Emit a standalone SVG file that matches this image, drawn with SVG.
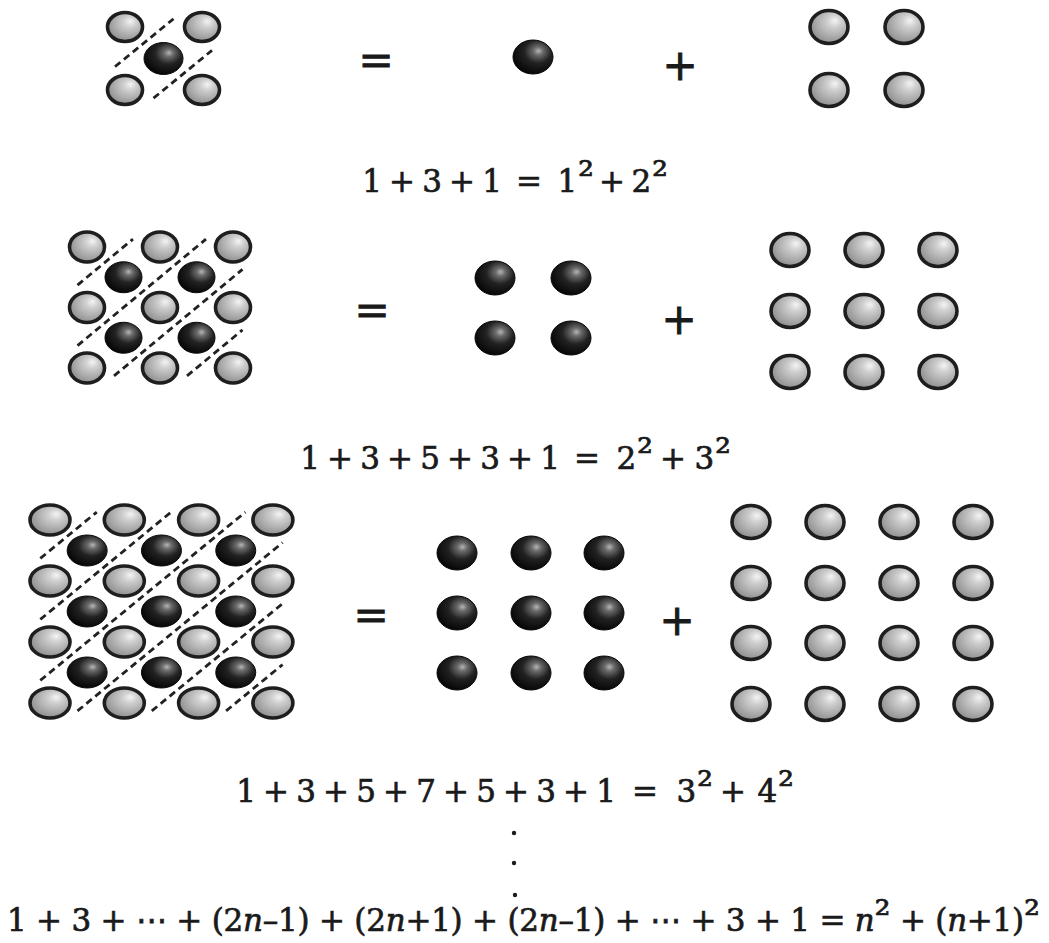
<svg xmlns="http://www.w3.org/2000/svg" width="1049" height="943" viewBox="0 0 1049 943">
<defs>
<radialGradient id="gg" cx="0.6" cy="0.38" r="0.62" fx="0.66" fy="0.3">
<stop offset="0" stop-color="#f4f4f4"/>
<stop offset="0.3" stop-color="#cfcfcf"/>
<stop offset="0.65" stop-color="#b0b0b0"/>
<stop offset="1" stop-color="#909090"/>
</radialGradient>
<radialGradient id="bg" cx="0.6" cy="0.36" r="0.68" fx="0.64" fy="0.32">
<stop offset="0" stop-color="#b5b5b5"/>
<stop offset="0.18" stop-color="#6a6a6a"/>
<stop offset="0.5" stop-color="#222222"/>
<stop offset="1" stop-color="#040404"/>
</radialGradient>
<style>
.g{fill:url(#gg);stroke:#1e1e1e;stroke-width:3.6}
.b{fill:url(#bg);stroke:#080808;stroke-width:1}
.d{stroke:#222;stroke-width:2.8;stroke-dasharray:7 4.5;fill:none}
.eq{font-family:"DejaVu Serif","DejaVu Sans",serif;font-size:31px;fill:#1a1a1a;stroke:#1a1a1a;stroke-width:0.7}
.sp{font-size:40px}
.op{font-family:"DejaVu Serif",serif;font-size:42px;fill:#1a1a1a;stroke:#1a1a1a;stroke-width:1;text-anchor:middle}
.it{font-style:italic}
.dot{fill:#1a1a1a}
</style>
</defs>
<rect width="1049" height="943" fill="#ffffff"/>

<g id="dashes">
<line class="d" x1="115" y1="66.7" x2="173.5" y2="18.8"/>
<line class="d" x1="153.5" y1="98.2" x2="212" y2="50.3"/>
<line class="d" x1="77.5" y1="285.1" x2="133" y2="239.1"/>
<line class="d" x1="77.5" y1="345.6" x2="206" y2="239.1"/>
<line class="d" x1="114" y1="375.9" x2="242.5" y2="269.4"/>
<line class="d" x1="187" y1="375.9" x2="242.5" y2="329.9"/>
<line class="d" x1="40.3" y1="558.4" x2="96.8" y2="512.1"/>
<line class="d" x1="40.3" y1="619.4" x2="171.1" y2="512.1"/>
<line class="d" x1="40.3" y1="680.4" x2="245.4" y2="512.1"/>
<line class="d" x1="77.5" y1="710.9" x2="282.6" y2="542.6"/>
<line class="d" x1="151.8" y1="710.9" x2="282.6" y2="603.6"/>
<line class="d" x1="226.1" y1="710.9" x2="282.6" y2="664.6"/>
</g>

<g id="fig1-left">
<ellipse class="g" cx="125" cy="27" rx="17.5" ry="14.5"/>
<ellipse class="g" cx="202" cy="27" rx="17.5" ry="14.5"/>
<ellipse class="g" cx="125" cy="90" rx="17.5" ry="14.5"/>
<ellipse class="g" cx="202" cy="90" rx="17.5" ry="14.5"/>
<ellipse class="b" cx="163.5" cy="58.5" rx="19.5" ry="16"/>
</g>
<g id="fig1-right">
<text class="op" x="376" y="75">=</text>
<ellipse class="b" cx="533" cy="57" rx="20" ry="17"/>
<text class="op" x="680" y="80">+</text>
<ellipse class="g" cx="829" cy="27" rx="19" ry="16.5"/>
<ellipse class="g" cx="904" cy="27" rx="19" ry="16.5"/>
<ellipse class="g" cx="829" cy="90" rx="19" ry="16.5"/>
<ellipse class="g" cx="904" cy="90" rx="19" ry="16.5"/>
</g>
<text id="eq1" class="eq" x="362.2 381.9 389 415 422.2 441.9 449 475 482.2 501.9 516 542 557.5 578 594 599 625 631.5 652" dy="0 0 0 0 0 0 0 0 0 0 0 0 0 -3 3 0 0 0 -3" y="192">1 + 3 + 1 = 1<tspan class="sp">²</tspan> + 2<tspan class="sp">²</tspan></text>

<g id="fig2-left">
<ellipse class="g" cx="87" cy="247" rx="17.5" ry="15"/>
<ellipse class="g" cx="160" cy="247" rx="17.5" ry="15"/>
<ellipse class="g" cx="233" cy="247" rx="17.5" ry="15"/>
<ellipse class="g" cx="87" cy="307.5" rx="17.5" ry="15"/>
<ellipse class="g" cx="160" cy="307.5" rx="17.5" ry="15"/>
<ellipse class="g" cx="233" cy="307.5" rx="17.5" ry="15"/>
<ellipse class="g" cx="87" cy="368" rx="17.5" ry="15"/>
<ellipse class="g" cx="160" cy="368" rx="17.5" ry="15"/>
<ellipse class="g" cx="233" cy="368" rx="17.5" ry="15"/>
<ellipse class="b" cx="123.5" cy="277.25" rx="18.5" ry="15.5"/>
<ellipse class="b" cx="196.5" cy="277.25" rx="18.5" ry="15.5"/>
<ellipse class="b" cx="123.5" cy="337.75" rx="18.5" ry="15.5"/>
<ellipse class="b" cx="196.5" cy="337.75" rx="18.5" ry="15.5"/>
</g>
<g id="fig2-right">
<text class="op" x="372" y="325">=</text>
<ellipse class="b" cx="495" cy="278" rx="20" ry="17"/>
<ellipse class="b" cx="571" cy="278" rx="20" ry="17"/>
<ellipse class="b" cx="495" cy="338" rx="20" ry="17"/>
<ellipse class="b" cx="571" cy="338" rx="20" ry="17"/>
<text class="op" x="679" y="334">+</text>
<ellipse class="g" cx="790" cy="250" rx="19" ry="16.5"/>
<ellipse class="g" cx="864" cy="250" rx="19" ry="16.5"/>
<ellipse class="g" cx="938" cy="250" rx="19" ry="16.5"/>
<ellipse class="g" cx="790" cy="311" rx="19" ry="16.5"/>
<ellipse class="g" cx="864" cy="311" rx="19" ry="16.5"/>
<ellipse class="g" cx="938" cy="311" rx="19" ry="16.5"/>
<ellipse class="g" cx="790" cy="372" rx="19" ry="16.5"/>
<ellipse class="g" cx="864" cy="372" rx="19" ry="16.5"/>
<ellipse class="g" cx="938" cy="372" rx="19" ry="16.5"/>
</g>
<text id="eq2" class="eq" x="300.2 320 327 353 360.2 380 387 413 420.2 440 447 473 480.2 500 507 533 540.2 560 574 600 616.5 637 653 660 686 694.5 715" dy="0 0 0 0 0 0 0 0 0 0 0 0 0 0 0 0 0 0 0 0 0 -3 3 0 0 0 -3" y="469">1 + 3 + 5 + 3 + 1 = 2<tspan class="sp">²</tspan> + 3<tspan class="sp">²</tspan></text>

<g id="fig3-left">
<ellipse class="g" cx="50" cy="520" rx="20" ry="15"/>
<ellipse class="g" cx="124.3" cy="520" rx="20" ry="15"/>
<ellipse class="g" cx="198.6" cy="520" rx="20" ry="15"/>
<ellipse class="g" cx="272.9" cy="520" rx="20" ry="15"/>
<ellipse class="g" cx="50" cy="581" rx="20" ry="15"/>
<ellipse class="g" cx="124.3" cy="581" rx="20" ry="15"/>
<ellipse class="g" cx="198.6" cy="581" rx="20" ry="15"/>
<ellipse class="g" cx="272.9" cy="581" rx="20" ry="15"/>
<ellipse class="g" cx="50" cy="642" rx="20" ry="15"/>
<ellipse class="g" cx="124.3" cy="642" rx="20" ry="15"/>
<ellipse class="g" cx="198.6" cy="642" rx="20" ry="15"/>
<ellipse class="g" cx="272.9" cy="642" rx="20" ry="15"/>
<ellipse class="g" cx="50" cy="703" rx="20" ry="15"/>
<ellipse class="g" cx="124.3" cy="703" rx="20" ry="15"/>
<ellipse class="g" cx="198.6" cy="703" rx="20" ry="15"/>
<ellipse class="g" cx="272.9" cy="703" rx="20" ry="15"/>
<ellipse class="b" cx="87.15" cy="550.5" rx="20" ry="15.5"/>
<ellipse class="b" cx="161.45" cy="550.5" rx="20" ry="15.5"/>
<ellipse class="b" cx="235.75" cy="550.5" rx="20" ry="15.5"/>
<ellipse class="b" cx="87.15" cy="611.5" rx="20" ry="15.5"/>
<ellipse class="b" cx="161.45" cy="611.5" rx="20" ry="15.5"/>
<ellipse class="b" cx="235.75" cy="611.5" rx="20" ry="15.5"/>
<ellipse class="b" cx="87.15" cy="672.5" rx="20" ry="15.5"/>
<ellipse class="b" cx="161.45" cy="672.5" rx="20" ry="15.5"/>
<ellipse class="b" cx="235.75" cy="672.5" rx="20" ry="15.5"/>
</g>
<g id="fig3-right">
<text class="op" x="371" y="630">=</text>
<ellipse class="b" cx="457" cy="553" rx="20" ry="17"/>
<ellipse class="b" cx="531" cy="553" rx="20" ry="17"/>
<ellipse class="b" cx="604" cy="553" rx="20" ry="17"/>
<ellipse class="b" cx="457" cy="613" rx="20" ry="17"/>
<ellipse class="b" cx="531" cy="613" rx="20" ry="17"/>
<ellipse class="b" cx="604" cy="613" rx="20" ry="17"/>
<ellipse class="b" cx="457" cy="673" rx="20" ry="17"/>
<ellipse class="b" cx="531" cy="673" rx="20" ry="17"/>
<ellipse class="b" cx="604" cy="673" rx="20" ry="17"/>
<text class="op" x="677" y="635">+</text>
<ellipse class="g" cx="751" cy="522" rx="19" ry="16.5"/>
<ellipse class="g" cx="825" cy="522" rx="19" ry="16.5"/>
<ellipse class="g" cx="899" cy="522" rx="19" ry="16.5"/>
<ellipse class="g" cx="973" cy="522" rx="19" ry="16.5"/>
<ellipse class="g" cx="751" cy="583" rx="19" ry="16.5"/>
<ellipse class="g" cx="825" cy="583" rx="19" ry="16.5"/>
<ellipse class="g" cx="899" cy="583" rx="19" ry="16.5"/>
<ellipse class="g" cx="973" cy="583" rx="19" ry="16.5"/>
<ellipse class="g" cx="751" cy="643" rx="19" ry="16.5"/>
<ellipse class="g" cx="825" cy="643" rx="19" ry="16.5"/>
<ellipse class="g" cx="899" cy="643" rx="19" ry="16.5"/>
<ellipse class="g" cx="973" cy="643" rx="19" ry="16.5"/>
<ellipse class="g" cx="751" cy="704" rx="19" ry="16.5"/>
<ellipse class="g" cx="825" cy="704" rx="19" ry="16.5"/>
<ellipse class="g" cx="899" cy="704" rx="19" ry="16.5"/>
<ellipse class="g" cx="973" cy="704" rx="19" ry="16.5"/>
</g>
<text id="eq3" class="eq" x="236.2 256 263 289 296.2 316 323 349 356.2 376 383 409 416.2 436 443 469 476.2 496 503 529 536.2 556 563 589 596.2 616 632 658 676.5 697 713 720 746 757.5 778" dy="0 0 0 0 0 0 0 0 0 0 0 0 0 0 0 0 0 0 0 0 0 0 0 0 0 0 0 0 0 -3 3 0 0 0 -3" y="802">1 + 3 + 5 + 7 + 5 + 3 + 1 = 3<tspan class="sp">²</tspan> + 4<tspan class="sp">²</tspan></text>

<g id="vdots">
<circle class="dot" cx="514" cy="833" r="2.2"/>
<circle class="dot" cx="514" cy="863" r="2.2"/>
<circle class="dot" cx="515" cy="895" r="2.2"/>
</g>

<text id="eq4" class="eq" x="7" y="931" textLength="1033" lengthAdjust="spacing">1 + 3 + ⋯ + (2<tspan class="it">n</tspan>–1) + (2<tspan class="it">n</tspan>+1) + (2<tspan class="it">n</tspan>–1) + ⋯ + 3 + 1 = <tspan class="it">n</tspan><tspan class="sp" dy="-3">²</tspan><tspan dy="3"> + (</tspan><tspan class="it">n</tspan>+1)<tspan class="sp" dy="-3">²</tspan></text>
</svg>
